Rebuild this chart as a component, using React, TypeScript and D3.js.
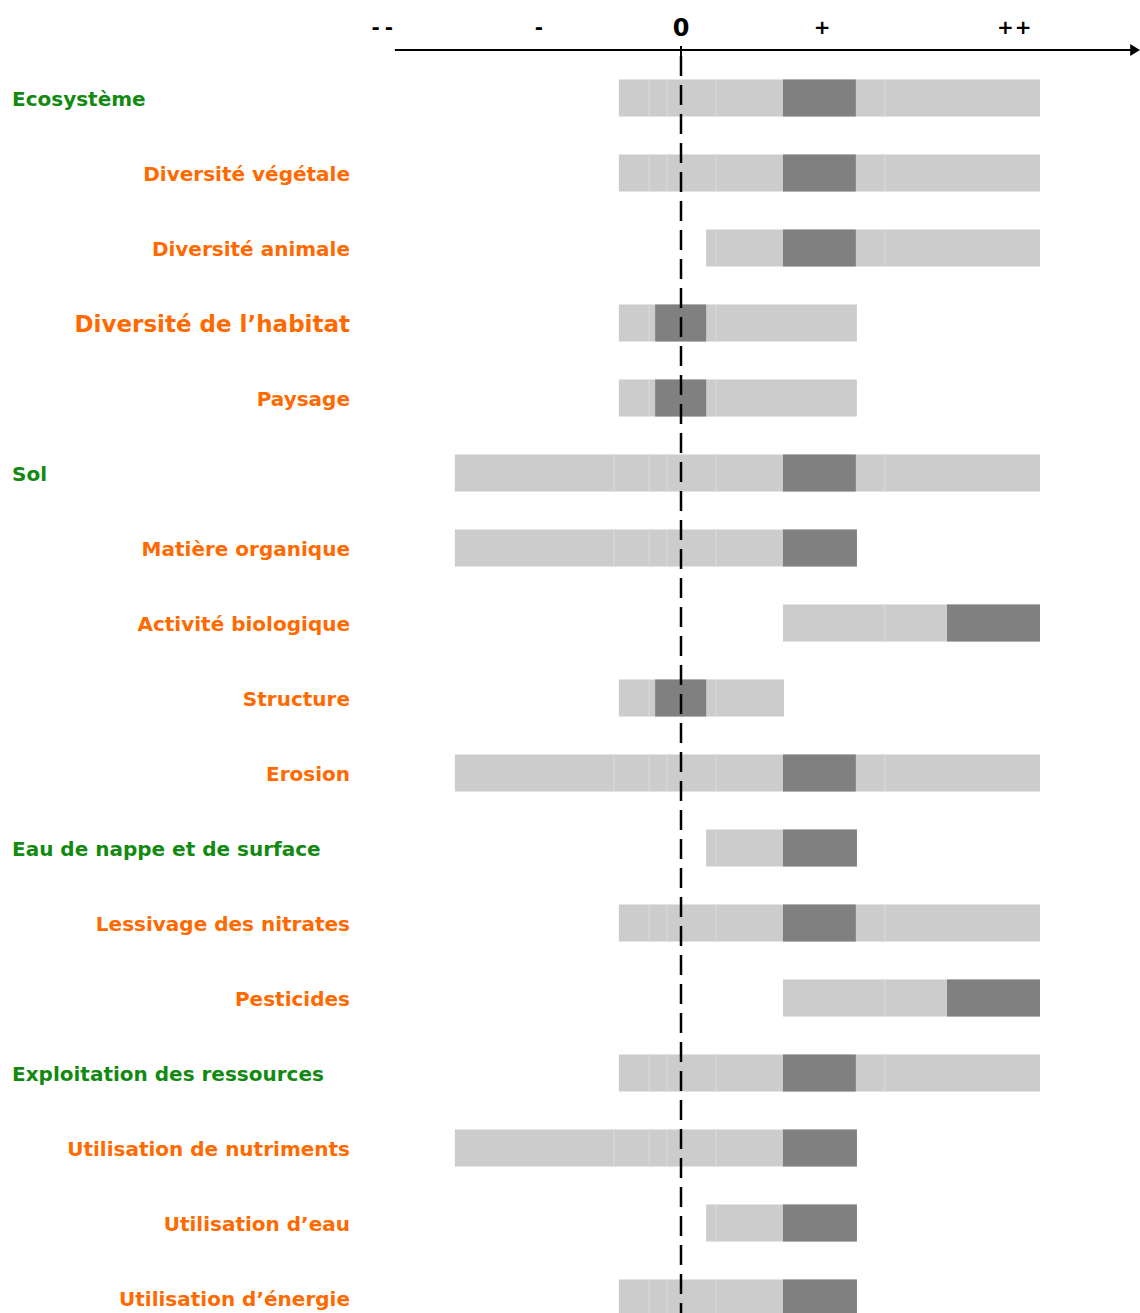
import React from "react";
import * as d3 from "d3";

const labels = [
  "Ecosystème",
  "Diversité végétale",
  "Diversité animale",
  "Diversité de l’habitat",
  "Paysage",
  "Sol",
  "Matière organique",
  "Activité biologique",
  "Structure",
  "Erosion",
  "Eau de nappe et de surface",
  "Lessivage des nitrates",
  "Pesticides",
  "Exploitation des ressources",
  "Utilisation de nutriments",
  "Utilisation d’eau",
  "Utilisation d’énergie",
];
// 1 = category heading (green), 0 = sub-item (orange)
const isCategory = [1, 0, 0, 0, 0, 1, 0, 0, 0, 0, 1, 0, 0, 1, 0, 0, 0];
const lightStart = [-1.73, -1.73, 0.7, -1.73, -1.73, -6.3, -6.3, 2.84, -1.73, -6.3, 0.7, -1.73, 2.84, -1.73, -6.3, 0.7, -1.73];
const lightEnd = [10, 10, 10, 4.9, 4.9, 10, 4.9, 10, 2.87, 10, 4.9, 10, 10, 10, 4.9, 4.9, 4.9];
const darkStart = [2.84, 2.84, 2.84, -0.72, -0.72, 2.84, 2.84, 7.41, -0.72, 2.84, 2.84, 2.84, 7.41, 2.84, 2.84, 2.84, 2.84];
const darkEnd = [4.87, 4.87, 4.87, 0.7, 0.7, 4.87, 4.9, 10, 0.7, 4.87, 4.9, 4.87, 10, 4.87, 4.9, 4.9, 4.9];
const seams = [-1.87, -0.89, -0.39, 0.97, 5.68];
const tickValues = [-8.25, -3.96, 0, 3.93, 9.3];
const tickLabels = ["--", "-", "0", "+", "++"];
const axisExtent = [-7.97, 12.79];

const W = 1140;
const H = 1313;
const FONT = "'DejaVu Sans', sans-serif";
const GREEN = "#128a12";
const ORANGE = "#ff6a00";

export default function App() {
  const x = d3.scaleLinear().domain([0, 10]).range([681, 1040]);
  const y = d3.scalePoint<string>().domain(labels).range([98, 1298]);
  const barH = 37;
  const axisY = 50;

  return (
    <svg
      width={W}
      height={H}
      style={{ position: "absolute", left: 0, top: 0, background: "#fff" }}
      fontFamily={FONT}
    >
      {labels.map((lab, i) => {
        const cy = y(lab)!;
        const x0 = x(lightStart[i]);
        const x1 = x(lightEnd[i]);
        const d0 = x(darkStart[i]);
        const d1 = x(darkEnd[i]);
        return (
          <g key={lab}>
            <rect x={x0} y={cy - barH / 2} width={x1 - x0} height={barH} fill="#cccccc" />
            {seams
              .filter((s) => x(s) > x0 + 2 && x(s) < x1 - 2 && !(x(s) >= d0 && x(s) <= d1))
              .map((s) => (
                <line key={s} x1={x(s)} x2={x(s)} y1={cy - barH / 2} y2={cy + barH / 2} stroke="#d9d9d9" strokeWidth={1.2} />
              ))}
            <rect x={d0} y={cy - barH / 2} width={d1 - d0} height={barH} fill="#808080" />
            <text
              x={isCategory[i] ? 12 : 350}
              y={cy + 1}
              dy="0.36em"
              textAnchor={isCategory[i] ? "start" : "end"}
              fill={isCategory[i] ? GREEN : ORANGE}
              fontWeight="bold"
              fontSize={i === 3 ? 23 : 20}
            >
              {lab}
            </text>
          </g>
        );
      })}

      {/* axis */}
      <line x1={x(axisExtent[0])} x2={x(axisExtent[1]) - 8} y1={axisY} y2={axisY} stroke="#000" strokeWidth={2} />
      <path
        d={`M${x(axisExtent[1])},${axisY} L${x(axisExtent[1]) - 10},${axisY - 6} L${x(axisExtent[1]) - 10},${axisY + 6} Z`}
        fill="#000"
      />
      {tickValues.map((t, i) => (
        <text
          key={i}
          x={x(t)}
          y={27}
          dy="0.36em"
          textAnchor="middle"
          fontWeight="bold"
          fontSize={tickLabels[i] === "0" ? 24 : 20}
          letterSpacing={tickLabels[i] === "--" ? 5 : tickLabels[i] === "++" ? 1 : 0}
          fill="#000"
        >
          {tickLabels[i]}
        </text>
      ))}
      <line x1={x(0)} x2={x(0)} y1={axisY - 4} y2={axisY + 10} stroke="#000" strokeWidth={2} />
      <line
        x1={x(0)}
        x2={x(0)}
        y1={axisY + 6}
        y2={H}
        stroke="#000"
        strokeWidth={2.5}
        strokeDasharray="20 9"
      />
    </svg>
  );
}
